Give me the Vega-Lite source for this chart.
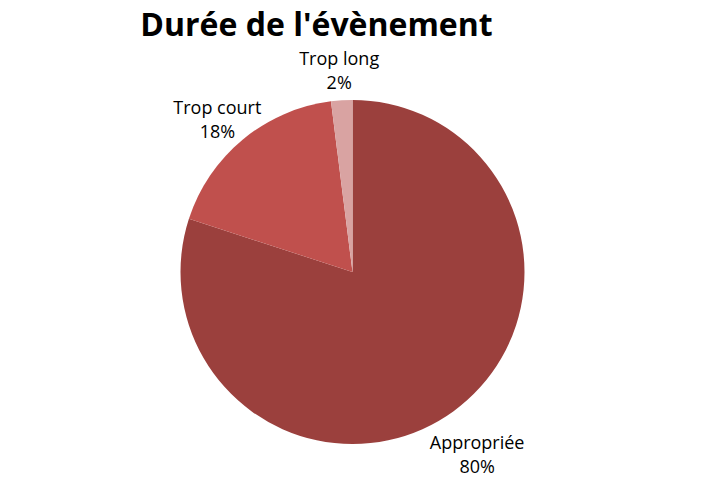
{
  "$schema": "https://vega.github.io/schema/vega-lite/v6.json",
  "width": 705,
  "height": 499,
  "autosize": {"type": "fit", "contains": "padding"},
  "padding": {"top": 10, "left": 0, "right": 0, "bottom": 0},
  "background": "white",
  "title": {
    "text": "Durée de l'évènement",
    "font": "Open Sans",
    "fontSize": 32,
    "fontWeight": "bold",
    "color": "#000000",
    "anchor": "middle",
    "dx": -36,
    "offset": 2
  },
  "data": {
    "values": [
      {"category": "Appropriée", "value": 80, "order": 1, "label": "Appropriée\n80%"},
      {"category": "Trop court", "value": 18, "order": 2, "label": "Trop court\n18%"},
      {"category": "Trop long", "value": 2, "order": 3, "label": "Trop long\n2%"}
    ]
  },
  "encoding": {
    "theta": {"field": "value", "type": "quantitative", "stack": true},
    "order": {"field": "order", "type": "quantitative"},
    "color": {
      "field": "category",
      "type": "nominal",
      "scale": {
        "domain": ["Appropriée", "Trop court", "Trop long"],
        "range": ["#9B403D", "#C0504D", "#D9A3A2"]
      },
      "legend": null
    }
  },
  "layer": [
    {"mark": {"type": "arc", "outerRadius": 172}},
    {
      "mark": {
        "type": "text",
        "radius": 212,
        "font": "Open Sans",
        "fontSize": 18,
        "lineBreak": "\n",
        "lineHeight": 24,
        "color": "#000000"
      },
      "encoding": {
        "text": {"field": "label", "type": "nominal"},
        "color": {"value": "#000000"}
      }
    }
  ],
  "config": {"view": {"stroke": null}}
}
